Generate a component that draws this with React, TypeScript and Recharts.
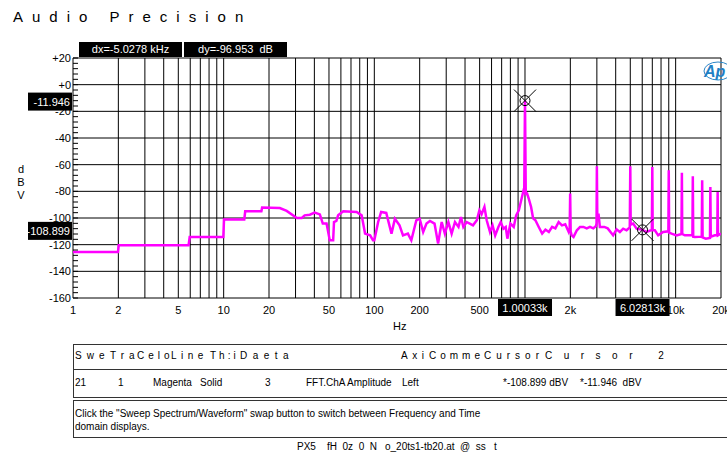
import React from "react";
import {
  LineChart,
  Line,
  XAxis,
  YAxis,
  ReferenceLine,
  ReferenceDot,
} from "recharts";

// FFT trace, in bands (Hz / dBV)
const lowHz = [
  1, 1.99, 2.01, 5.85, 5.95, 9.95, 10.05, 13.7, 13.9, 17.8,
  18.0, 23.6, 26.2, 30.6, 33, 34.5, 37.3, 40.2, 43.5, 45.5,
  48.2, 50.6, 53.3, 54, 56, 57.5, 62.2, 76.3, 82.4, 86.8,
  93.8, 98,
];
const lowDbv = [
  -125.5, -125.5, -120.5, -120.5, -114.3, -114.3, -101.2, -101.2, -95, -95,
  -92.2, -92.5, -94.7, -100, -100, -98, -97.5, -96, -97.3, -104.2,
  -104.2, -116.7, -116.7, -103, -102.2, -98, -95, -95.5, -98, -111.7,
  -113, -116.7,
];

const midHz = [
  100, 106, 111, 120, 130, 137, 147, 155, 167, 176,
  190, 200, 211, 222, 234, 251, 265, 280, 294, 310,
  326, 343, 362, 376, 390, 410, 430, 452, 479, 498,
  515, 538, 557, 586, 609, 634, 666, 690, 719, 745,
  764, 800, 842, 874, 910, 944, 975,
];
const midDbv = [
  -116.7, -103, -95.5, -96.2, -111.7, -100.5, -105.5, -113, -111.7, -116.7,
  -101.7, -100.5, -110.5, -104.2, -102.2, -104.2, -119.2, -103, -111.7, -103,
  -111.7, -103, -106.7, -99.2, -106.7, -103, -104.2, -105.5, -101.7, -94.2,
  -97.2, -91.7, -101.7, -110.5, -105.5, -113, -106.7, -103, -108, -106.7,
  -115.5, -104.2, -106.7, -98, -94.2, -86.7, -80,
];

const peakHz = [
  988, 1000.33, 1012, 1033, 1059, 1098, 1132, 1173, 1234, 1300,
  1367, 1440, 1514, 1591, 1673, 1760, 1850, 1950, 1980, 1995,
  2010, 2040,
];
const peakDbv = [
  -82, -11.946, -82, -81.7, -85.5, -91.7, -100.2, -101.7, -106.7, -111.7,
  -108.7, -110.5, -106.7, -107.8, -103, -105.5, -104.7, -110.5, -108, -81.7,
  -110, -113,
];

const highHz = [
  2100, 2210, 2320, 2440, 2570, 2700, 2840, 2960, 2985, 3000,
  3020, 3076, 3140, 3360, 3540, 3730, 3848, 4053, 4265, 4487,
  4722, 4960, 5000, 5030, 5223, 5506, 6028.13, 6412, 6950, 7000,
  7040, 7278, 7656, 8263, 8950, 9000, 9050, 9397, 10140, 10930,
  11000, 11060, 11510, 12920, 13000, 13080, 13400, 14900, 15000, 15100,
  15850, 16900, 17000, 17100, 18190, 18900, 19000, 19100, 20000,
];
const highDbv = [
  -114.2, -109.2, -106.7, -106.7, -107.8, -106.7, -107.8, -106, -104, -61.2,
  -100, -96.7, -106.7, -106.7, -107.8, -111, -113, -108.5, -110.5, -108,
  -109.2, -107, -61.2, -105, -104.2, -108, -108.899, -110.5, -109, -61.7,
  -109.2, -109.2, -113, -110.5, -110, -64.2, -111, -111.7, -113, -112,
  -66, -112, -113, -113, -68.7, -114, -114.2, -114, -71.7, -114.5,
  -115.5, -115, -76.7, -114, -113, -113, -80.5, -113, -111.7,
];

const xTicks = [1, 2, 5, 10, 20, 50, 100, 200, 500, 2000, 10000, 20000];
const gridHz = [
  1, 2, 3, 4, 5, 6, 7, 8, 9, 10, 20, 30, 40, 50, 60, 70, 80, 90, 100, 200, 300,
  400, 500, 600, 700, 800, 900, 1000, 2000, 3000, 4000, 5000, 6000, 7000, 8000,
  9000, 10000, 20000,
];
const majorDb = [20, 0, -20, -40, -60, -80, -100, -120, -140, -160];
const minorDb = [
  20, 16, 12, 8, 4, 0, -4, -8, -12, -16, -20, -24, -28, -32, -36, -40, -44, -48,
  -52, -56, -60, -64, -68, -72, -76, -80, -84, -88, -92, -96, -100, -104, -108,
  -112, -116, -120, -124, -128, -132, -136, -140, -144, -148, -152, -156, -160,
];

const cursorHz = [1000.33, 6028.13];
const cursorDbv = [-11.946, -108.899];
const cursorHzText = ["1.00033k", "6.02813k"];
const cursorDbText = ["-11.946", "-108.899"];

const traceHz = [...lowHz, ...midHz, ...peakHz, ...highHz];
const traceDbv = [...lowDbv, ...midDbv, ...peakDbv, ...highDbv];
const data = traceHz.map((f, i) => ({ f, v: traceDbv[i] }));

const font = "'Liberation Sans', Arial, sans-serif";

const fmtDb = (v: number) => (v > 0 ? "+" + v : v === 0 ? "+0" : String(v));
const fmtHz = (v: number) => (v >= 1000 ? v / 1000 + "k" : String(v));

function YTick(props: any) {
  const { x, y, payload } = props;
  const v = payload.value;
  return (
    <g>
      <line x1={x} x2={x + 5} y1={y} y2={y} stroke="#000" />
      {v % 20 === 0 && (
        <text x={x - 2} y={y} dy="0.36em" textAnchor="end" fontSize={11} fill="#000">
          {fmtDb(v)}
        </text>
      )}
    </g>
  );
}

function XTick(props: any) {
  const { x, y, payload } = props;
  return (
    <text x={x} y={y + 8} dy="0.71em" textAnchor="middle" fontSize={11} fill="#000">
      {fmtHz(payload.value)}
    </text>
  );
}

function CursorMark(props: any) {
  const { cx, cy } = props;
  return (
    <g stroke="#000" strokeWidth={1} fill="none">
      <circle cx={cx} cy={cy} r={5} />
      <line x1={cx - 11} y1={cy - 11} x2={cx + 11} y2={cy + 11} />
      <line x1={cx - 11} y1={cy + 11} x2={cx + 11} y2={cy - 11} />
    </g>
  );
}

const yCursorLabel = (text: string) => (props: any) => {
  const vb = props.viewBox;
  return (
    <g>
      <rect x={vb.x - 45} y={vb.y - 8} width={44} height={18} fill="#000" />
      <text x={vb.x - 3} y={vb.y + 1} dy="0.36em" textAnchor="end" fontSize={11} fill="#fff">
        {text}
      </text>
    </g>
  );
};

const xCursorLabel = (text: string) => (props: any) => {
  const vb = props.viewBox;
  const bottom = vb.y + vb.height;
  return (
    <g>
      <rect x={vb.x - 27} y={bottom + 1} width={54} height={17} fill="#000" />
      <text x={vb.x} y={bottom + 10} dy="0.36em" textAnchor="middle" fontSize={11} fill="#fff">
        {text}
      </text>
    </g>
  );
};

const abs = (left: number, top: number, extra: React.CSSProperties = {}): React.CSSProperties => ({
  position: "absolute",
  left,
  top,
  whiteSpace: "pre",
  lineHeight: 1,
  ...extra,
});

const boxStyle: React.CSSProperties = {
  width: 103,
  height: 15,
  background: "#000",
  color: "#fff",
  fontSize: 11,
  textAlign: "center",
  lineHeight: "15px",
};

export default function App() {
  return (
    <div
      style={{
        position: "absolute",
        left: 0,
        top: 0,
        width: 727,
        height: 453,
        background: "#fff",
        overflow: "hidden",
        fontFamily: font,
        color: "#000",
      }}
    >
      <div style={abs(13, 9, { fontSize: 15, letterSpacing: 9 })}>Audio Precision</div>

      <div style={abs(79, 42, boxStyle)}>dx=-5.0278 kHz</div>
      <div style={abs(184, 42, boxStyle)}>dy=-96.953  dB</div>

      <div style={abs(16, 163, { fontSize: 11, lineHeight: "13px", width: 10, textAlign: "center" })}>
        d<br />B<br />V
      </div>
      <div style={abs(393, 321, { fontSize: 11 })}>Hz</div>

      <div style={{ position: "absolute", left: 0, top: 0 }}>
        <LineChart width={727} height={340} data={data} margin={{ top: 58, right: 6, bottom: 0, left: 0 }}>
          <XAxis
            dataKey="f"
            type="number"
            scale="log"
            domain={[1, 20000]}
            ticks={xTicks}
            tick={<XTick />}
            tickSize={0}
            tickMargin={0}
            tickLine={false}
            axisLine={false}
            interval={0}
            height={42}
            allowDataOverflow
          />
          <YAxis
            type="number"
            domain={[-160, 20]}
            ticks={minorDb}
            tick={<YTick />}
            tickSize={0}
            tickMargin={0}
            tickLine={false}
            axisLine={false}
            width={73}
            interval={0}
            allowDataOverflow
          />
          {gridHz.map((f) => (
            <ReferenceLine key={"gx" + f} x={f} stroke="#000" strokeWidth={1} />
          ))}
          {majorDb.map((v) => (
            <ReferenceLine key={"gy" + v} y={v} stroke="#000" strokeWidth={1} />
          ))}
          <Line
            dataKey="v"
            type="linear"
            stroke="#ff00ff"
            strokeWidth={2.5}
            dot={false}
            isAnimationActive={false}
          />
          {cursorHz.map((f, i) => (
            <ReferenceLine key={"cx" + i} x={f} stroke="none" label={xCursorLabel(cursorHzText[i])} />
          ))}
          {cursorDbv.map((v, i) => (
            <ReferenceLine key={"cy" + i} y={v} stroke="none" label={yCursorLabel(cursorDbText[i])} />
          ))}
          {cursorHz.map((f, i) => (
            <ReferenceDot key={"cm" + i} x={f} y={cursorDbv[i]} r={5} shape={<CursorMark />} />
          ))}
        </LineChart>
      </div>

      <svg style={{ position: "absolute", left: 700, top: 58 }} width={27} height={26}>
        <ellipse cx={18} cy={13} rx={14} ry={9} fill="none" stroke="#2a86c8" strokeWidth={1} />
        <text x={4} y={19} fontSize={16} fontStyle="italic" fontWeight="bold" fill="#1f7fc4" fontFamily={font}>
          Ap
        </text>
      </svg>

      {/* trace table */}
      <div style={abs(73, 344, { width: 700, height: 54, border: "1px solid #333", boxSizing: "border-box" })} />
      <div style={abs(73, 369, { width: 700, height: 1, background: "#333" })} />
      <div style={abs(73, 400, { width: 700, height: 38, border: "1px solid #333", boxSizing: "border-box" })} />

      <div style={{ fontSize: 10 }}>
        <span style={abs(75, 351, { letterSpacing: 5 })}>Swe</span>
        <span style={abs(110, 351, { letterSpacing: 5 })}>Tra</span>
        <span style={abs(137, 351, { letterSpacing: 4 })}>Celo</span>
        <span style={abs(171, 351, { letterSpacing: 4.5 })}>Line</span>
        <span style={abs(210, 351, { letterSpacing: 3 })}>Th:i</span>
        <span style={abs(240, 351, { letterSpacing: 5.5 })}>Daeta</span>
        <span style={abs(401, 351, { letterSpacing: 4.5 })}>Axi</span>
        <span style={abs(429, 351, { letterSpacing: 4 })}>Comme</span>
        <span style={abs(484, 351, { letterSpacing: 5 })}>Cursor</span>
        <span style={abs(545, 351, { letterSpacing: 11.5 })}>Cursor 2</span>

        <span style={abs(75, 378)}>21</span>
        <span style={abs(118, 378)}>1</span>
        <span style={abs(153, 378)}>Magenta</span>
        <span style={abs(200, 378)}>Solid</span>
        <span style={abs(265, 378)}>3</span>
        <span style={abs(306, 378)}>FFT.ChA Amplitude</span>
        <span style={abs(402, 378)}>Left</span>
        <span style={abs(503, 378)}>*-108.899 dBV</span>
        <span style={abs(580, 378)}>*-11.946  dBV</span>

        <span style={abs(75, 409)}>
          Click the "Sweep Spectrum/Waveform" swap button to switch between Frequency and Time
        </span>
        <span style={abs(75, 422)}>domain displays.</span>

        <span style={abs(297, 442)}>PX5</span>
        <span style={abs(327, 442)}>fH  0z  0  N</span>
        <span style={abs(385, 442)}>o_20ts1-tb20.at  @  ss   t</span>
      </div>
    </div>
  );
}
